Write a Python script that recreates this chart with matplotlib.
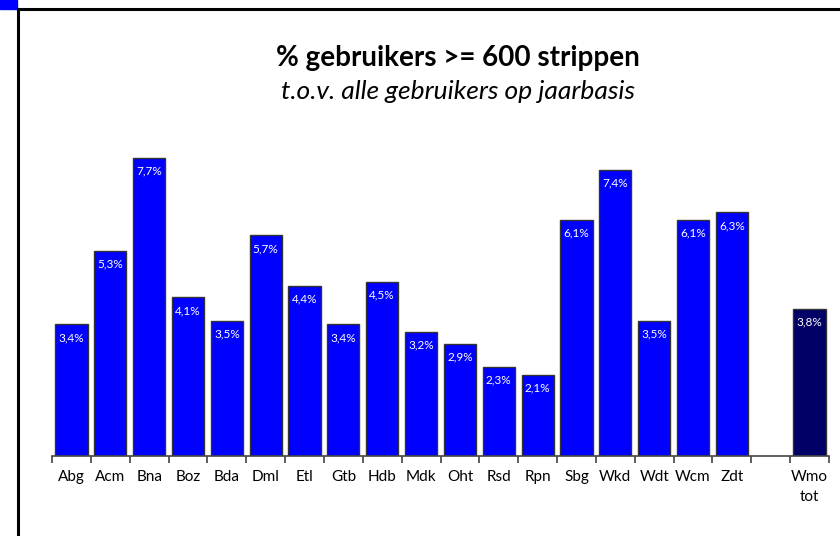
import matplotlib
matplotlib.use("Agg")
import matplotlib.pyplot as plt
from matplotlib.lines import Line2D
from matplotlib.patches import Rectangle

categories = ["Abg", "Acm", "Bna", "Boz", "Bda", "Dml", "Etl", "Gtb", "Hdb", "Mdk",
              "Oht", "Rsd", "Rpn", "Sbg", "Wkd", "Wdt", "Wcm", "Zdt", "", "Wmo\ntot"]
values = [3.4, 5.3, 7.7, 4.1, 3.5, 5.7, 4.4, 3.4, 4.5, 3.2,
          2.9, 2.3, 2.1, 6.1, 7.4, 3.5, 6.1, 6.3, None, 3.8]
labels = ["3,4%", "5,3%", "7,7%", "4,1%", "3,5%", "5,7%", "4,4%", "3,4%", "4,5%", "3,2%",
          "2,9%", "2,3%", "2,1%", "6,1%", "7,4%", "3,5%", "6,1%", "6,3%", "", "3,8%"]
colors = ["#0000FF"] * 19 + ["#000066"]

plt.rcParams['font.family'] = ['Lato', 'DejaVu Sans']

fig = plt.figure(figsize=(8.4, 5.36), dpi=100)
W, H = 840, 536
ax = fig.add_axes([52 / W, (H - 456) / H, (829 - 52) / W, 309.6 / H])

x = list(range(len(categories)))
for i, v in enumerate(values):
    if v is None:
        continue
    ax.bar(i, v, width=0.83, color=colors[i], edgecolor="#333333", linewidth=1.0, zorder=2)
    ax.text(i, v - 0.2, labels[i], ha="center", va="top", color="white", fontsize=8.5, zorder=3)

ax.set_xlim(-0.5, len(categories) - 0.5)
ax.set_ylim(0, 8)
for s in ["top", "right", "left"]:
    ax.spines[s].set_visible(False)
ax.spines["bottom"].set_color("#444444")
ax.spines["bottom"].set_linewidth(1.2)
ax.set_yticks([])
ax.set_xticks([i - 0.5 for i in range(len(categories) + 1)], minor=False)
ax.set_xticklabels([])
ax.tick_params(axis="x", which="major", length=5, width=1.2, color="#444444", direction="out")
ax.set_xticks(x, minor=True)
ax.set_xticklabels(categories, minor=True, fontsize=11, linespacing=1.6)
ax.tick_params(axis="x", which="minor", length=0, pad=10)

fig.text(458 / W, 1 - 58 / H, "% gebruikers >= 600 strippen", ha="center", va="center",
         fontsize=20, fontweight="bold")
fig.text(458 / W, 1 - 92 / H, "t.o.v. alle gebruikers op jaarbasis", ha="center", va="center",
         fontsize=19, style="italic")

# frame lines and corner square
fig.add_artist(Line2D([18 / W, 1], [1 - 9 / H, 1 - 9 / H], color="black", linewidth=2.2))
fig.add_artist(Line2D([18 / W, 18 / W], [0, 1 - 9 / H], color="black", linewidth=2.2))
fig.add_artist(Rectangle((0, 1 - 9 / H), 17 / W, 9 / H, color="#0000FF", transform=fig.transFigure))

fig.savefig("out.png", dpi=100)
